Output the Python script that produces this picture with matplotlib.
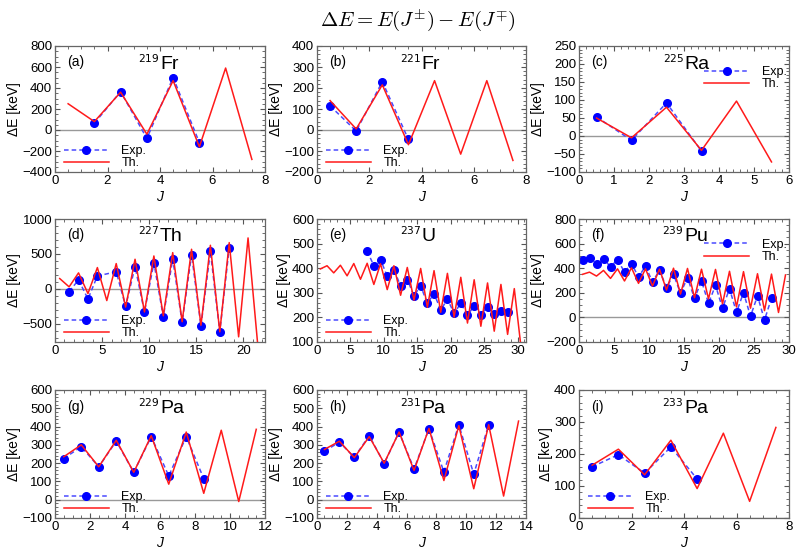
import numpy as np
import matplotlib
matplotlib.use('Agg')
from matplotlib import pyplot as plt
from matplotlib.ticker import AutoMinorLocator, MultipleLocator

plt.rcParams['font.family'] = ['Liberation Sans', 'DejaVu Sans']
plt.rcParams['mathtext.fontset'] = 'cm'

# (a) 219Fr
fr219_th_j = [0.5, 1.5, 2.5, 3.5, 4.5, 5.5, 6.5, 7.5]
fr219_th = [250, 80, 360, -40, 470, -160, 590, -280]
fr219_exp_j = [1.5, 2.5, 3.5, 4.5, 5.5]
fr219_exp = [65, 365, -80, 500, -120]

# (b) 221Fr
fr221_th_j = [0.5, 1.5, 2.5, 3.5, 4.5, 5.5, 6.5, 7.5]
fr221_th = [140, 5, 215, -70, 235, -115, 235, -145]
fr221_exp_j = [0.5, 1.5, 2.5, 3.5]
fr221_exp = [115, -5, 230, -45]

# (c) 225Ra
ra225_th_j = [0.5, 1.5, 2.5, 3.5, 4.5, 5.5]
ra225_th = [50, -5, 80, -40, 97, -72]
ra225_exp_j = [0.5, 1.5, 2.5, 3.5]
ra225_exp = [53, -12, 92, -42]

# (d) 227Th
th227_th_j = [0.5, 1.5, 2.5, 3.5, 4.5, 5.5, 6.5, 7.5, 8.5, 9.5, 10.5,
              11.5, 12.5, 13.5, 14.5, 15.5, 16.5, 17.5, 18.5, 19.5, 20.5, 21.5]
th227_th = [148, 29, 229, -67, 305, -167, 362, -260, 424, -330, 471,
            -385, 519, -470, 567, -520, 624, -614, 662, -686, 729, -757]
th227_exp_j = [1.5, 2.5, 3.5, 4.5, 6.5, 7.5, 8.5, 9.5, 10.5, 11.5,
               12.5, 13.5, 14.5, 15.5, 16.5, 17.5, 18.5]
th227_exp = [-40, 130, -145, 185, 245, -250, 320, -330, 375, -400,
             430, -480, 490, -530, 535, -610, 590]

# (e) 237U
u237_th_j = [0.5, 1.5, 2.5, 3.5, 4.5, 5.5, 6.5, 7.5, 8.5, 9.5, 10.5,
             11.5, 12.5, 13.5, 14.5, 15.5, 16.5, 17.5, 18.5, 19.5, 20.5,
             21.5, 22.5, 23.5, 24.5, 25.5, 26.5, 27.5, 28.5, 29.5, 30.5]
u237_th = [397, 410, 381, 412, 369, 419, 355, 420, 334, 418, 313,
           410, 290, 403, 270, 399, 241, 390, 221, 379, 201,
           363, 177, 353, 164, 340, 144, 334, 131, 317, 80]
u237_exp_j = [7.5, 8.5, 9.5, 10.5, 11.5, 12.5, 13.5, 14.5, 15.5, 16.5, 17.5,
              18.5, 19.5, 20.5, 21.5, 22.5, 23.5, 24.5, 25.5, 26.5, 27.5, 28.5]
u237_exp = [470, 410, 435, 367, 394, 328, 354, 288, 328, 257, 297,
            230, 274, 217, 257, 210, 246, 210, 244, 213, 228, 220]

# (f) 239Pu
pu239_th_j = [0.5, 1.5, 2.5, 3.5, 4.5, 5.5, 6.5, 7.5, 8.5, 9.5, 10.5,
              11.5, 12.5, 13.5, 14.5, 15.5, 16.5, 17.5, 18.5, 19.5, 20.5,
              21.5, 22.5, 23.5, 24.5, 25.5, 26.5, 27.5, 28.5, 29.5]
pu239_th = [350, 368, 336, 382, 317, 395, 296, 403, 277, 395, 255,
            392, 223, 400, 190, 398, 160, 392, 150, 390, 110,
            375, 85, 372, 75, 355, 55, 352, 40, 345]
pu239_exp_j = [0.5, 1.5, 2.5, 3.5, 4.5, 5.5, 6.5, 7.5, 8.5, 9.5, 10.5,
               11.5, 12.5, 13.5, 14.5, 15.5, 16.5, 17.5, 18.5, 19.5, 20.5,
               21.5, 22.5, 23.5, 24.5, 25.5, 26.5, 27.5]
pu239_exp = [465, 484, 438, 478, 411, 470, 368, 438, 328, 417, 288,
             384, 242, 350, 197, 323, 154, 296, 114, 261, 74,
             234, 41, 202, 9, 175, -21, 156]

# (g) 229Pa
pa229_th_j = [0.5, 1.5, 2.5, 3.5, 4.5, 5.5, 6.5, 7.5, 8.5, 9.5, 10.5, 11.5]
pa229_th = [235, 300, 180, 325, 150, 350, 85, 370, 35, 380, -10, 385]
pa229_exp_j = [0.5, 1.5, 2.5, 3.5, 4.5, 5.5, 6.5, 7.5, 8.5]
pa229_exp = [225, 290, 180, 320, 150, 345, 130, 345, 115]

# (h) 231Pa
pa231_th_j = [0.5, 1.5, 2.5, 3.5, 4.5, 5.5, 6.5, 7.5, 8.5, 9.5, 10.5,
              11.5, 12.5, 13.5]
pa231_th = [275, 320, 230, 345, 200, 370, 160, 390, 105, 405, 60,
            410, 20, 430]
pa231_exp_j = [0.5, 1.5, 2.5, 3.5, 4.5, 5.5, 6.5, 7.5, 8.5, 9.5, 10.5, 11.5]
pa231_exp = [265, 315, 232, 350, 198, 370, 168, 388, 152, 410, 140, 410]

# (i) 233Pa
pa233_th_j = [0.5, 1.5, 2.5, 3.5, 4.5, 5.5, 6.5, 7.5]
pa233_th = [165, 215, 135, 243, 92, 265, 52, 283]
pa233_exp_j = [0.5, 1.5, 2.5, 3.5, 4.5]
pa233_exp = [160, 198, 140, 222, 122]

W, H = 796, 549

# panel, mass, element, th x/y, exp x/y, xlim, ylim, ystep, xstep, legend corner
panels = [
    ('(a)', '219', 'Fr', fr219_th_j, fr219_th, fr219_exp_j, fr219_exp, (0, 8), (-400, 800), 200, 2, 'lower'),
    ('(b)', '221', 'Fr', fr221_th_j, fr221_th, fr221_exp_j, fr221_exp, (0, 8), (-200, 400), 100, 2, 'lower'),
    ('(c)', '225', 'Ra', ra225_th_j, ra225_th, ra225_exp_j, ra225_exp, (0, 6), (-100, 250), 50, 1, 'upper'),
    ('(d)', '227', 'Th', th227_th_j, th227_th, th227_exp_j, th227_exp, (0, 22.3), (-760, 1000), 500, 5, 'lower'),
    ('(e)', '237', 'U', u237_th_j, u237_th, u237_exp_j, u237_exp, (0, 31.25), (100, 600), 100, 5, 'lower'),
    ('(f)', '239', 'Pu', pu239_th_j, pu239_th, pu239_exp_j, pu239_exp, (0, 30), (-200, 800), 200, 5, 'upper'),
    ('(g)', '229', 'Pa', pa229_th_j, pa229_th, pa229_exp_j, pa229_exp, (0, 12), (-100, 600), 100, 2, 'lower'),
    ('(h)', '231', 'Pa', pa231_th_j, pa231_th, pa231_exp_j, pa231_exp, (0, 14), (-100, 600), 100, 2, 'lower'),
    ('(i)', '233', 'Pa', pa233_th_j, pa233_th, pa233_exp_j, pa233_exp, (0, 8), (0, 400), 100, 2, 'lower'),
]

# pixel boxes (left, right) per column and (top, bottom) per row
cols = [(55, 265), (317, 526), (579, 789)]
rows = [(46, 172), (219, 342), (390, 518)]

fig = plt.figure(figsize=(W / 100, H / 100), dpi=100)
fig.text(0.525, 0.962, r'$\Delta E = E(J^{\pm}) - E(J^{\mp})$', ha='center', va='center', fontsize=15)

for k, p in enumerate(panels):
    label, mass, elem, thx, thy, exx, exy, xlim, ylim, ystep, xstep, legpos = p
    l, r = cols[k % 3]
    t, b = rows[k // 3]
    ax = fig.add_axes([l / W, 1 - b / H, (r - l) / W, (b - t) / H])

    ax.axhline(0, color='#999999', lw=1.0, zorder=1)
    ax.plot(exx, exy, ls=(0, (3, 2)), color='#4a4aff', lw=1.1, marker='o',
            markersize=5.5, markerfacecolor='#0000ff', markeredgecolor='#0000ff', label='Exp.', zorder=2)
    ax.plot(thx, thy, '-', color='#ff1a1a', lw=1.1, label='Th.', zorder=3)

    ax.set_xlim(*xlim)
    ax.set_ylim(*ylim)
    ax.xaxis.set_major_locator(MultipleLocator(xstep))
    ax.yaxis.set_major_locator(MultipleLocator(ystep))
    ax.xaxis.set_minor_locator(AutoMinorLocator())
    ax.yaxis.set_minor_locator(AutoMinorLocator())
    ax.tick_params(which='both', direction='in', top=True, right=True, labelsize=9.5, color='#555555', pad=2)
    ax.tick_params(which='major', length=3.5)
    ax.tick_params(which='minor', length=2)
    ax.yaxis.set_major_formatter(plt.FuncFormatter(lambda v, pos: ('%d' % v).replace('-', '\u2212')))
    for s in ax.spines.values():
        s.set_color('#666666')
        s.set_linewidth(0.9)

    ax.set_xlabel('J', fontstyle='italic', fontsize=10, labelpad=2)
    ax.set_ylabel('\u0394E [keV]', fontsize=10, labelpad=1)

    ax.text(0.06, 0.87, label, transform=ax.transAxes, fontsize=10, va='center', ha='left')
    ax.text(0.5, 0.865, r'$^{%s}$' % mass, transform=ax.transAxes, fontsize=11, va='center', ha='right',
            math_fontfamily='dejavusans')
    ax.text(0.5, 0.855, elem, transform=ax.transAxes, fontsize=14, va='center', ha='left')

    legkw = dict(frameon=False, fontsize=9, handlelength=3.6, handletextpad=1.0,
                 labelspacing=0.02, borderaxespad=0.0, borderpad=0.2)
    if legpos == 'lower':
        ax.legend(loc='lower left', bbox_to_anchor=(0.03, 0.0), **legkw)
    else:
        ax.legend(loc='upper right', bbox_to_anchor=(1.0, 0.86), **legkw)

fig.savefig('out.png', dpi=100)
